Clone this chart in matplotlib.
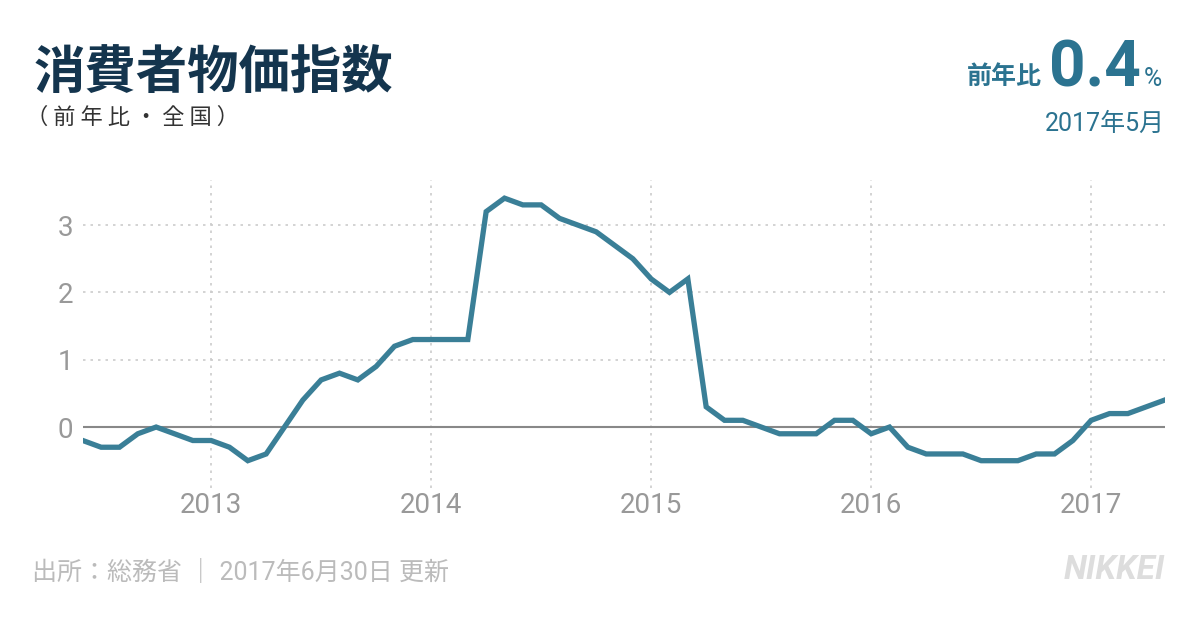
import matplotlib
matplotlib.use('Agg')
import matplotlib.pyplot as plt
import numpy as np

plt.rcParams['font.family'] = ['Roboto', 'Noto Sans CJK JP', 'DejaVu Sans']

# monthly CPI, year-on-year %, June 2012 .. May 2017
start_year = 2012
start_month = 6
cpi = [-0.2, -0.3, -0.3, -0.1, 0.0, -0.1, -0.2,
       -0.2, -0.3, -0.5, -0.4, 0.0, 0.4, 0.7, 0.8, 0.7, 0.9, 1.2, 1.3,
       1.3, 1.3, 1.3, 3.2, 3.4, 3.3, 3.3, 3.1, 3.0, 2.9, 2.7, 2.5,
       2.2, 2.0, 2.2, 0.3, 0.1, 0.1, 0.0, -0.1, -0.1, -0.1, 0.1, 0.1,
       -0.1, 0.0, -0.3, -0.4, -0.4, -0.4, -0.5, -0.5, -0.5, -0.4, -0.4, -0.2,
       0.1, 0.2, 0.2, 0.3, 0.4]
year_ticks = [2013, 2014, 2015, 2016, 2017]
y_ticks = [0, 1, 2, 3]

months = np.arange(len(cpi))
x = start_year + (start_month - 1 + months) / 12.0

line_color = '#3a7f97'
title_color = '#14354e'
accent = '#2b7390'

fig = plt.figure(figsize=(12, 6.26), dpi=100)
ax = fig.add_axes([0.069, 0.2204, 0.902, 0.4921])

for yr in year_ticks:
    ax.axvline(yr, color='#cccccc', lw=1.2, ls=(0, (1.5, 3)), zorder=1)
for v in y_ticks[1:]:
    ax.axhline(v, color='#cccccc', lw=1.2, ls=(0, (1.5, 3)), zorder=1)
ax.axhline(0, color='#888888', lw=1.5, zorder=2)

ax.plot(x, cpi, color=line_color, lw=3.8, solid_joinstyle='miter', zorder=3)

ax.set_xlim(x[0], x[-1] + 0.003)
ax.set_ylim(-0.906, 3.67)
ax.set_xticks(year_ticks)
ax.set_xticklabels([str(y) for y in year_ticks])
ax.set_yticks(y_ticks)
ax.tick_params(length=0, labelsize=20, labelcolor='#999999')
ax.tick_params(axis='x', pad=3)
ax.tick_params(axis='y', pad=7)
for s in ax.spines.values():
    s.set_visible(False)

fig.text(0.028, 0.885, '消費者物価指数', fontsize=37, fontweight='bold',
         color=title_color, va='center', family=['Noto Sans CJK JP'])
fig.text(0.022, 0.812, '（ 前 年 比 ・ 全 国 ）', fontsize=16, color='#333333',
         va='center', family=['Noto Sans CJK JP'])

fig.text(0.868, 0.866, '前年比', fontsize=18, fontweight='bold', color=accent,
         ha='right', va='baseline', family=['Noto Sans CJK JP'])
fig.text(0.874, 0.862, '0.4', fontsize=46, fontweight='bold', color=accent,
         ha='left', va='baseline', family=['Roboto'])
fig.text(0.953, 0.862, '%', fontsize=18, color=accent,
         ha='left', va='baseline', family=['Roboto'])
fig.text(0.971, 0.802, '2017年5月', fontsize=18, color=accent,
         ha='right', va='center')

fig.text(0.027, 0.086, '出所：総務省 ｜ 2017年6月30日 更新', fontsize=18,
         color='#bbbbbb', va='center')
fig.text(0.971, 0.089, 'NIKKEI', fontsize=24, fontweight='bold', style='italic',
         color='#dddddd', ha='right', va='center', family=['Roboto'])

fig.savefig('out.png', dpi=100)
